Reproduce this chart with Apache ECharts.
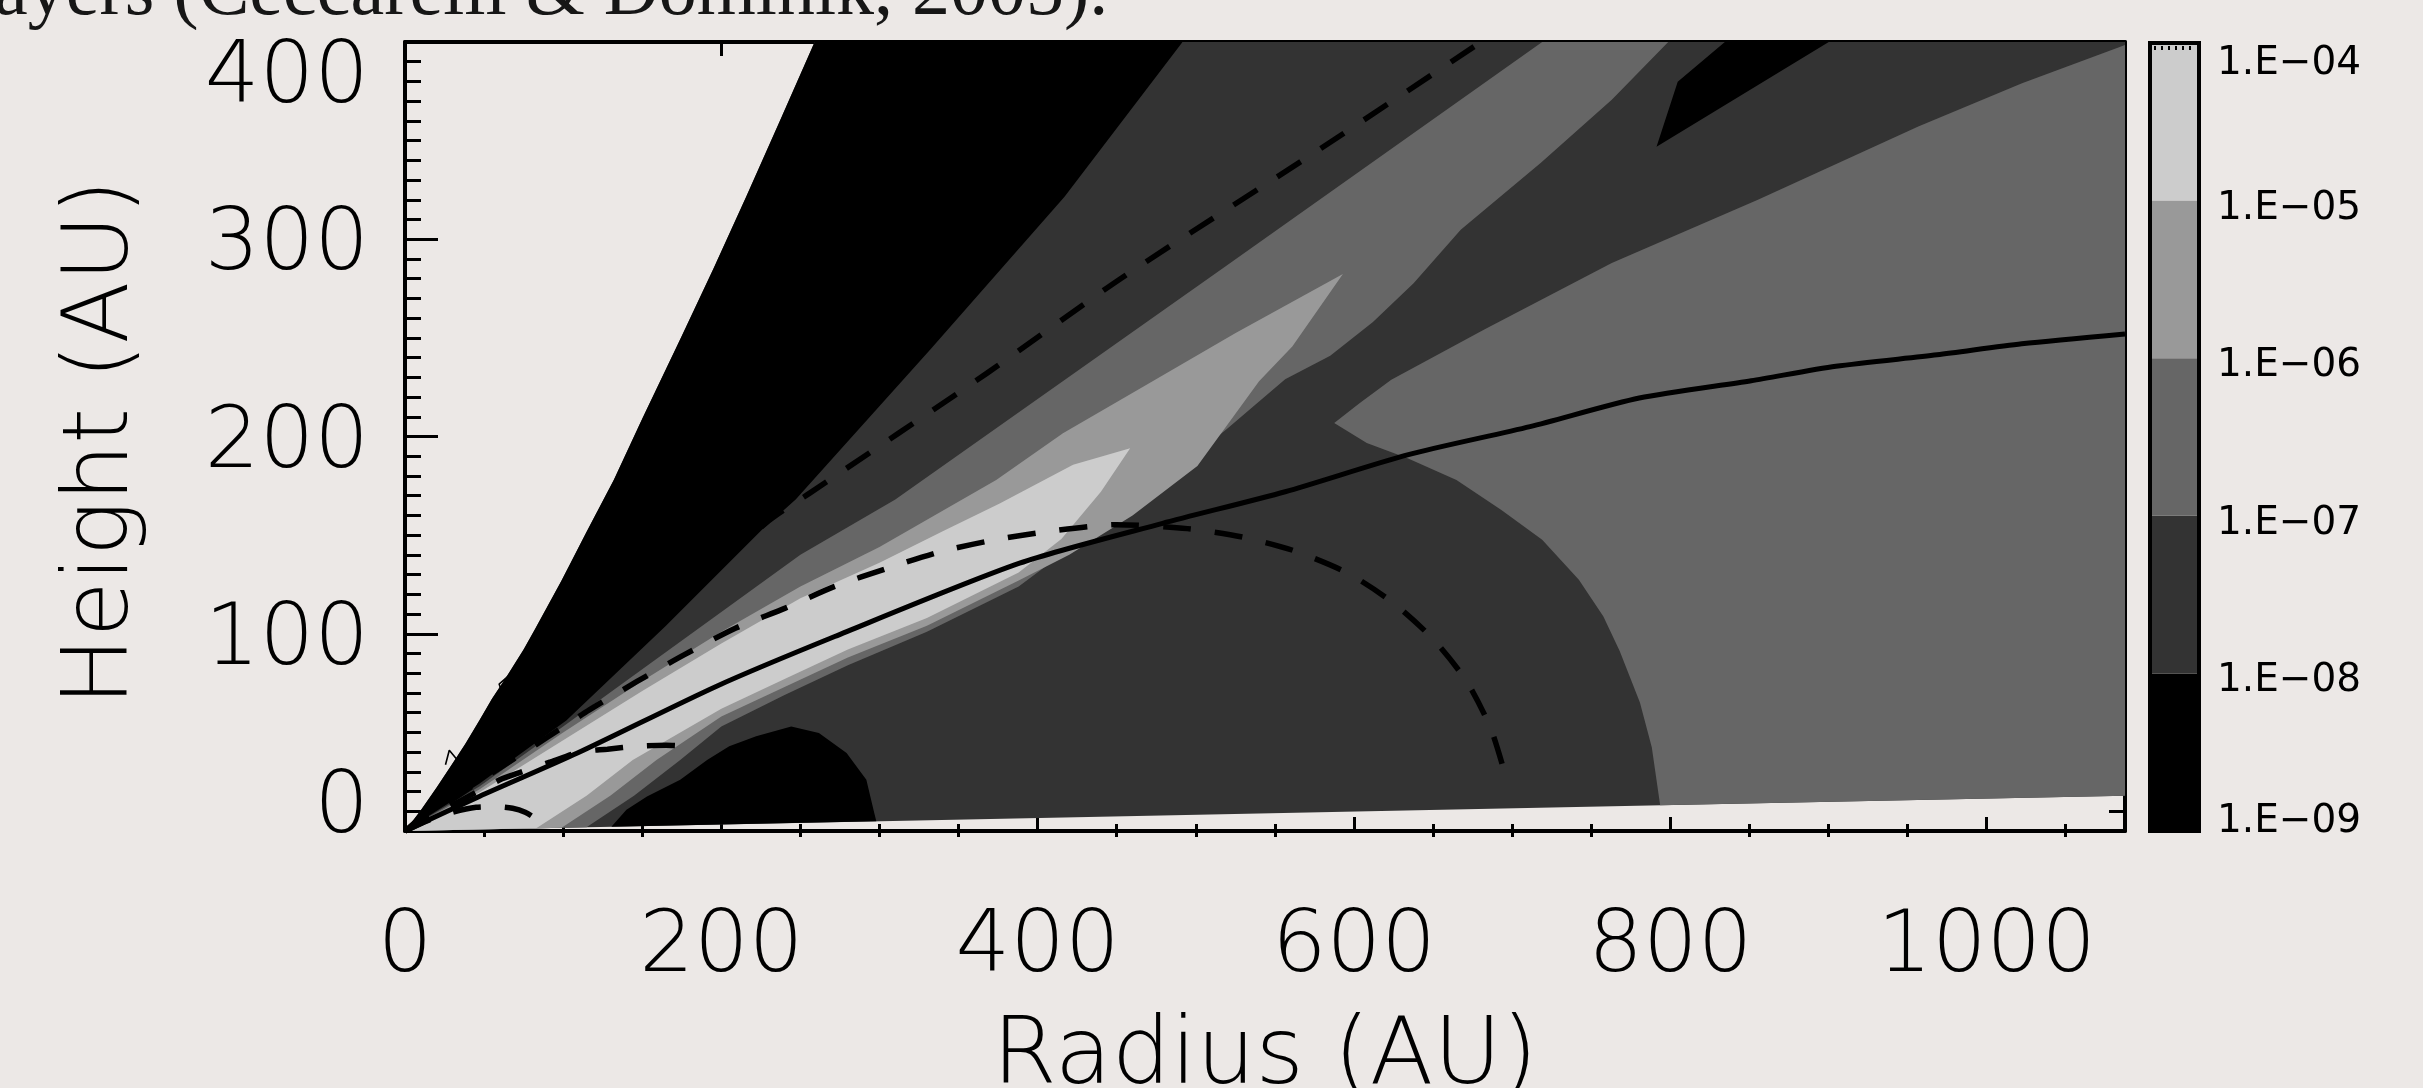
<!DOCTYPE html>
<html>
<head>
<meta charset="utf-8">
<script src="https://cdn.jsdelivr.net/npm/echarts@6/dist/echarts.min.js"></script>
<style>
  html, body { margin: 0; padding: 0; background: #ece8e6; }
  #chart { width: 2423px; height: 1088px; }
</style>
</head>
<body>
<div id="chart"></div>
<script>
// ---- axes (AU) ----
const radiusMax = 1087.5;
const heightMax = 400;
const radiusMajorTicks = [0, 200, 400, 600, 800, 1000];
const radiusMinorTicks = [50, 100, 150, 250, 300, 350, 450, 500, 550, 650, 700, 750, 850, 900, 950, 1050];
// height labels sit a little inside the frame at both ends
const heightLabelSpots = [11, 96, 196, 296, 381];

// ---- colour bar: abundance levels (log steps) ----
const levelLabels = ['1.E\u221209', '1.E\u221208', '1.E\u221207', '1.E\u221206', '1.E\u221205', '1.E\u221204'];
const levelLabelSpots = [0.06, 0.95, 1.95, 2.95, 3.95, 4.87];
const levelColors = ['#000000', '#333333', '#666666', '#999999', '#cccccc'];

// ---- model domain edges [radius, height] ----
const diskBase = [[0, 0], [1100, 18.1]];
const upperEdge = [[0, 0], [10, 10.5], [20, 22], [29, 33], [38, 44], [47, 56], [55, 67], [64, 78], [75, 92], [82, 102], [99, 127],
  [115, 152], [132, 178], [150, 209], [175, 251], [195, 285], [216, 322], [237, 360], [259, 400], [269, 420]];

// ---- filled contour regions [radius, height] ----
const wedgeEdge = [[0, 0], [47, 24], [102, 56], [165, 104], [226, 153], [247, 168], [332, 244], [417, 321.6], [491, 399.4], [505, 415]];
const band666Upper = [[0, 0], [47, 22.5], [100, 53], [150, 82], [200, 111], [250, 140], [310, 168], [520, 287], [719, 400], [745, 415]];
const band666Lower = [[817, 415], [798.7, 400], [763, 370.7], [718, 338.6], [667.5, 304.8], [637.7, 277.7], [612, 258], [585, 241], [556.5, 229],
  [520, 204], [480, 178], [430, 149], [388, 124], [330, 101], [280, 84], [240, 69], [200, 53], [174, 36], [145, 18], [115, 2]];
const band999Upper = [[0, 0], [47, 21], [100, 50], [150, 76], [200, 101], [250, 124], [300, 144], [373.8, 178], [416, 201.7], [470.5, 227], [524.9, 252.4], [593, 282.4]];
const band999Lower = [[561, 245.6], [540, 228], [501, 185], [460, 160], [420, 140], [388, 127], [330, 104], [280, 88], [240, 73], [200, 58], [159, 36], [130, 18], [99, 1.6]];
const bandCccUpper = [[0, 0], [47, 19.5], [100, 46], [150, 71], [200, 95], [250, 118], [300, 136], [340, 152], [376, 166], [422.4, 185.7], [458.5, 194]];
const bandCccLower = [[440, 172], [415, 148], [388, 131], [330, 108], [280, 92], [240, 77], [200, 62], [144, 36], [115, 18], [83, 1.4]];
const outerRegion666 = [[587.5, 206.8], [603.5, 216.9], [623.6, 228.8], [682.4, 254.2], [763, 287.9], [855.4, 320], [956.8, 357.1], [1022.4, 379.1],
  [1085, 397.7], [1100, 402], [1100, 18.1], [793.6, 13.1], [788.3, 42.4], [780.8, 65.1], [768, 91.3], [757.7, 108.8], [742.2, 127.4],
  [719, 147.6], [693.2, 162.8], [664.8, 178], [633.9, 189], [608.1, 196.7]];
const notchBlack = [[804.7, 379.9], [834.5, 400], [834.5, 415], [900.2, 415], [900.2, 400], [791.3, 346.9]];
const domeBlack = [[130.5, 2.1], [140, 10.8], [153, 17.5], [174, 26], [191, 36], [205, 43], [222, 48], [244.2, 53], [261.7, 49.7],
  [279.2, 39.5], [291.7, 26], [296.7, 9.1], [298, 4.9]];

// ---- overlaid curves [radius, height] ----
const solidCurve = [[0, 0], [47, 17.5], [109, 39.5], [196.7, 73.3], [271.7, 98.6], [388.6, 135.8], [479, 156], [556.5, 172], [633.8, 190.7],
  [711.3, 205], [780.4, 219.5], [851.2, 228.3], [904.7, 235.6], [968.7, 241.4], [1022.2, 247], [1087.5, 252]];
const dashedArc = [[0, 0], [30, 16], [60, 32], [90, 47.5], [116.8, 61.5], [146.7, 75.8], [176.7, 89.4], [209.2, 102.9], [240.4, 113],
  [271.7, 124], [305.4, 133.3], [339.1, 141.7], [372.9, 147.6], [407, 151.9], [450, 155.3], [494.7, 153.3], [529.5, 149],
  [561.7, 142.2], [595.2, 131.1], [623.6, 116.4], [649.4, 97.8], [671.3, 75.8], [686.8, 51.3], [697.1, 24.3]];
const dashedUpper = [[0, 0], [230, 157.3], [255.9, 171.3], [367.8, 232], [452.4, 280], [573.3, 343], [676, 397.7], [682, 401]];
const dashedLow = [[0, 0], [60, 26], [72, 29.5], [92, 35], [110, 40], [128, 41.5], [147, 43], [165, 43.5], [180, 43]];
const dashedInner = [[0, 0], [15, 5.5], [30, 9.5], [45, 12], [58, 12.3], [68, 11.5], [76, 9.5], [82, 6.5], [86, 3]];
// stray contour fragments just above the domain edge
const strayA = [[25.6, 33.6], [28, 40.9], [34.3, 34.8]];
const strayB = [[65.1, 78.4], [59.5, 74.5], [61.5, 70]];

// polygon closed along the disk base back to the origin
function baseHeight(r) { return r * diskBase[1][1] / diskBase[1][0]; }
function withBase(upper, lower) {
  const last = lower[lower.length - 1];
  return upper.concat(lower, [[last[0], baseHeight(last[0])], [0, 0]]);
}

function regionSeries(name, pts, color) {
  return {
    type: 'custom', name: name, silent: true, clip: true,
    xAxisIndex: 0, yAxisIndex: 0, encode: { x: 0, y: 1 }, data: pts,
    renderItem: function (params, api) {
      if (params.dataIndex !== 0) return null;
      return { type: 'polygon', shape: { points: pts.map(function (p) { return api.coord(p); }) }, style: { fill: color } };
    }
  };
}

function curveSeries(name, pts, style) {
  const widths = { solid: 5, dashed: 5.5, thin: 1.6 };
  return {
    type: 'line', name: name, data: pts, showSymbol: false, silent: true, clip: true,
    smooth: style === 'thin' ? false : 0.25, z: 5, xAxisIndex: 0, yAxisIndex: 0,
    lineStyle: { color: '#000', width: widths[style], type: style === 'dashed' ? [28, 24] : 'solid', cap: 'butt' }
  };
}

const domain = [[0, 0], diskBase[1], [1100, 420]].concat(upperEdge.slice().reverse());
const blackWedge = upperEdge.concat(wedgeEdge.slice().reverse());
const band666 = band666Upper.concat(band666Lower, [[115, baseHeight(115)]]);
const band999 = withBase(band999Upper, band999Lower);
const bandCcc = withBase(bandCccUpper, bandCccLower);
const dome = domeBlack.concat([[130.5, baseHeight(130.5)]]);

const thinFont = { fontFamily: 'DejaVu Sans', fontWeight: 200, color: '#000' };
const frame = { show: true, onZero: false, lineStyle: { color: '#000', width: 4 } };
const tickLine = { width: 3, color: '#000' };

const chart = echarts.init(document.getElementById('chart'));
chart.setOption({
  animation: false,
  backgroundColor: '#ece8e6',
  graphic: [{
    type: 'text', x: -6, y: -6, silent: true,
    style: { text: 'ayers (Ceccarelli & Dominik, 2005).', font: '76px "Liberation Serif"', fill: '#161616', verticalAlign: 'middle' }
  }],
  grid: [
    { left: 405, top: 42, width: 1720, height: 789, outerBoundsMode: 'none', containLabel: false },
    { left: 2150, top: 43, width: 49, height: 788, outerBoundsMode: 'none', containLabel: false }
  ],
  xAxis: [
    { type: 'value', gridIndex: 0, position: 'bottom', min: 0, max: radiusMax,
      name: 'Radius (AU)', nameLocation: 'middle', nameGap: 181,
      nameTextStyle: Object.assign({ fontSize: 93, lineHeight: 93 }, thinFont),
      axisLine: frame, splitLine: { show: false },
      axisTick: { inside: true, length: 14, customValues: radiusMajorTicks, lineStyle: tickLine },
      axisLabel: Object.assign({ customValues: radiusMajorTicks, fontSize: 86, lineHeight: 60, margin: 88,
        formatter: function (v) { return String(v); } }, thinFont) },
    { type: 'value', gridIndex: 0, position: 'bottom', min: 0, max: radiusMax,
      axisLine: { show: false }, splitLine: { show: false }, axisLabel: { show: false },
      axisTick: { inside: true, length: 7, customValues: radiusMinorTicks, lineStyle: tickLine } },
    { type: 'value', gridIndex: 0, position: 'top', min: 0, max: radiusMax,
      axisLine: frame, splitLine: { show: false }, axisLabel: { show: false },
      axisTick: { inside: true, length: 14, customValues: radiusMajorTicks, lineStyle: tickLine } },
    { type: 'value', gridIndex: 0, position: 'top', min: 0, max: radiusMax,
      axisLine: { show: false }, splitLine: { show: false }, axisLabel: { show: false },
      axisTick: { inside: true, length: 6, customValues: radiusMinorTicks, lineStyle: tickLine } },
    { type: 'value', gridIndex: 1, min: 0, max: 1, show: false }
  ],
  yAxis: [
    { type: 'value', gridIndex: 0, position: 'left', min: 0, max: heightMax, interval: 100,
      name: 'Height (AU)', nameLocation: 'middle', nameGap: 256, nameRotate: 90,
      nameTextStyle: Object.assign({ fontSize: 91, lineHeight: 91, padding: [0, 12, 0, 0] }, thinFont),
      axisLine: frame, splitLine: { show: false },
      axisTick: { inside: true, length: 33, lineStyle: tickLine },
      minorTick: { show: true, splitNumber: 10, length: 16, lineStyle: tickLine },
      axisLabel: Object.assign({ customValues: heightLabelSpots, fontSize: 86, lineHeight: 60, margin: 36,
        formatter: function (v) { return String(Math.round(v / 100) * 100); } }, thinFont) },
    { type: 'value', gridIndex: 0, position: 'right', min: 0, max: heightMax, interval: 100,
      axisLine: frame, splitLine: { show: false }, axisLabel: { show: false },
      axisTick: { inside: true, length: 33, lineStyle: tickLine },
      minorTick: { show: true, splitNumber: 10, length: 16, lineStyle: tickLine } },
    { type: 'value', gridIndex: 1, position: 'right', min: 0, max: 5, interval: 1,
      axisLine: { show: false }, axisTick: { show: false }, splitLine: { show: false },
      axisLabel: { customValues: levelLabelSpots, margin: 18, fontFamily: 'DejaVu Sans', fontSize: 39, lineHeight: 40, color: '#000',
        formatter: function (v) { return levelLabels[Math.round(v)]; } } }
  ],
  series: [
    regionSeries('domain', domain, '#333333'),
    regionSeries('wedge', blackWedge, '#000000'),
    regionSeries('band666', band666, '#666666'),
    regionSeries('band999', band999, '#999999'),
    regionSeries('bandCcc', bandCcc, '#cccccc'),
    regionSeries('outer666', outerRegion666, '#666666'),
    regionSeries('notch', notchBlack, '#000000'),
    regionSeries('dome', dome, '#000000'),
    curveSeries('solid', solidCurve, 'solid'),
    curveSeries('dashedArc', dashedArc, 'dashed'),
    curveSeries('dashedUpper', dashedUpper, 'dashed'),
    curveSeries('dashedLow', dashedLow, 'dashed'),
    curveSeries('dashedInner', dashedInner, 'dashed'),
    curveSeries('strayA', strayA, 'thin'),
    curveSeries('strayB', strayB, 'thin'),
    {
      type: 'custom', name: 'colorbar', silent: true, xAxisIndex: 4, yAxisIndex: 2,
      data: levelColors.map(function (c, i) { return [i, i + 1]; }),
      renderItem: function (params, api) {
        const p0 = api.coord([0, api.value(0)]);
        const p1 = api.coord([1, api.value(1)]);
        return { type: 'rect', shape: { x: p0[0], y: p1[1], width: p1[0] - p0[0], height: p0[1] - p1[1] },
          style: { fill: levelColors[params.dataIndex] } };
      }
    },
    {
      type: 'custom', name: 'colorbarFrame', silent: true, xAxisIndex: 4, yAxisIndex: 2, z: 6,
      data: [[0, 5]],
      renderItem: function (params, api) {
        const p0 = api.coord([0, 0]);
        const p1 = api.coord([1, 5]);
        return { type: 'group', children: [
          { type: 'rect', shape: { x: p0[0], y: p1[1], width: p1[0] - p0[0], height: p0[1] - p1[1] },
            style: { fill: null, stroke: '#000', lineWidth: 4 } },
          { type: 'line', shape: { x1: p0[0] + 4, y1: p1[1] + 5, x2: p1[0] - 4, y2: p1[1] + 5 },
            style: { stroke: '#000', lineWidth: 4, lineDash: [2, 5] } }
        ] };
      }
    }
  ]
});
</script>
</body>
</html>
